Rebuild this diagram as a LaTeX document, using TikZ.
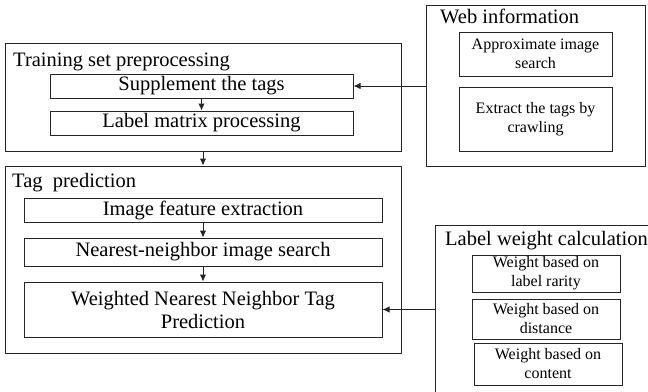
\documentclass[tikz,border=0pt]{standalone}
\usepackage{fontspec}
\setmainfont{Liberation Serif}
\usetikzlibrary{arrows.meta}
\definecolor{linegray}{rgb}{0.15, 0.15, 0.15}
\tikzset{
  frame/.style={draw=linegray, line width=1pt, inner sep=0pt, align=center},
  big/.style={font=\fontsize{20.5}{23}\selectfont},
  small/.style={font=\fontsize{16}{19}\selectfont},
  title/.style={big, anchor=base west, inner sep=0pt},
  flow/.style={-{Latex[length=7pt,width=6.5pt]}, draw=linegray, line width=1pt}
}

\begin{document}
\begin{tikzpicture}[x=1pt, y=-1pt]
    \useasboundingbox (0,0) rectangle (648,391);
    \clip (0,0) rectangle (648,391);
    % training set preprocessing
    \node[frame, minimum width=396pt, minimum height=108pt] (train) at (203,97) {};
    \node[title] (traintitle) at (13,66) {Training set preprocessing};
    \node[frame, big, minimum width=303pt, minimum height=24pt] (supp) at (201.5,86) {Supplement the tags};
    \node[frame, big, minimum width=303pt, minimum height=24pt] (lmat) at (201.5,123) {Label matrix processing};
    % web information
    \node[frame, minimum width=219pt, minimum height=161pt] (web) at (535.5,85.5) {};
    \node[title] (webtitle) at (440,23) {Web information};
    \node[frame, small, minimum width=153pt, minimum height=44pt] (approx) at (535.5,54) {Approximate image\\search};
    \node[frame, small, minimum width=153pt, minimum height=64pt] (crawl) at (535.5,119) {Extract the tags by\\crawling};
    % tag prediction
    \node[frame, minimum width=396pt, minimum height=187pt] (tag) at (203,259.5) {};
    \node[title] (tagtitle) at (12,187) {Tag\ \ prediction};
    \node[frame, big, minimum width=358pt, minimum height=24pt] (feat) at (203,210) {Image feature extraction};
    \node[frame, big, minimum width=358pt, minimum height=28pt] (nn) at (203,252) {Nearest-neighbor image search};
    \node[frame, big, minimum width=358pt, minimum height=55pt] (wnn) at (203,309.5) {Weighted Nearest Neighbor Tag\\Prediction};
    % label weight calculation
    \node[frame, minimum width=217pt, minimum height=170pt] (lw) at (543.5,310) {};
    \node[title] (lwtitle) at (445,245) {Label weight calculation};
    \node[frame, small, minimum width=148pt, minimum height=37pt] (rarity) at (546,273.5) {Weight based on\\label rarity};
    \node[frame, small, minimum width=148pt, minimum height=40pt] (dist) at (546,319) {Weight based on\\distance};
    \node[frame, small, minimum width=148pt, minimum height=42pt] (cont) at (548,364) {Weight based on\\content};
    % connectors
    \draw[flow] (supp) -- (lmat);
    \draw[flow] (train) -- (tag);
    \draw[flow] (feat) -- (nn);
    \draw[flow] (nn) -- (wnn);
    \draw[flow] (web.west |- supp.east) -- (supp.east);
    \draw[flow] (lw.west |- wnn.east) -- (wnn.east);
\end{tikzpicture}
\end{document}
